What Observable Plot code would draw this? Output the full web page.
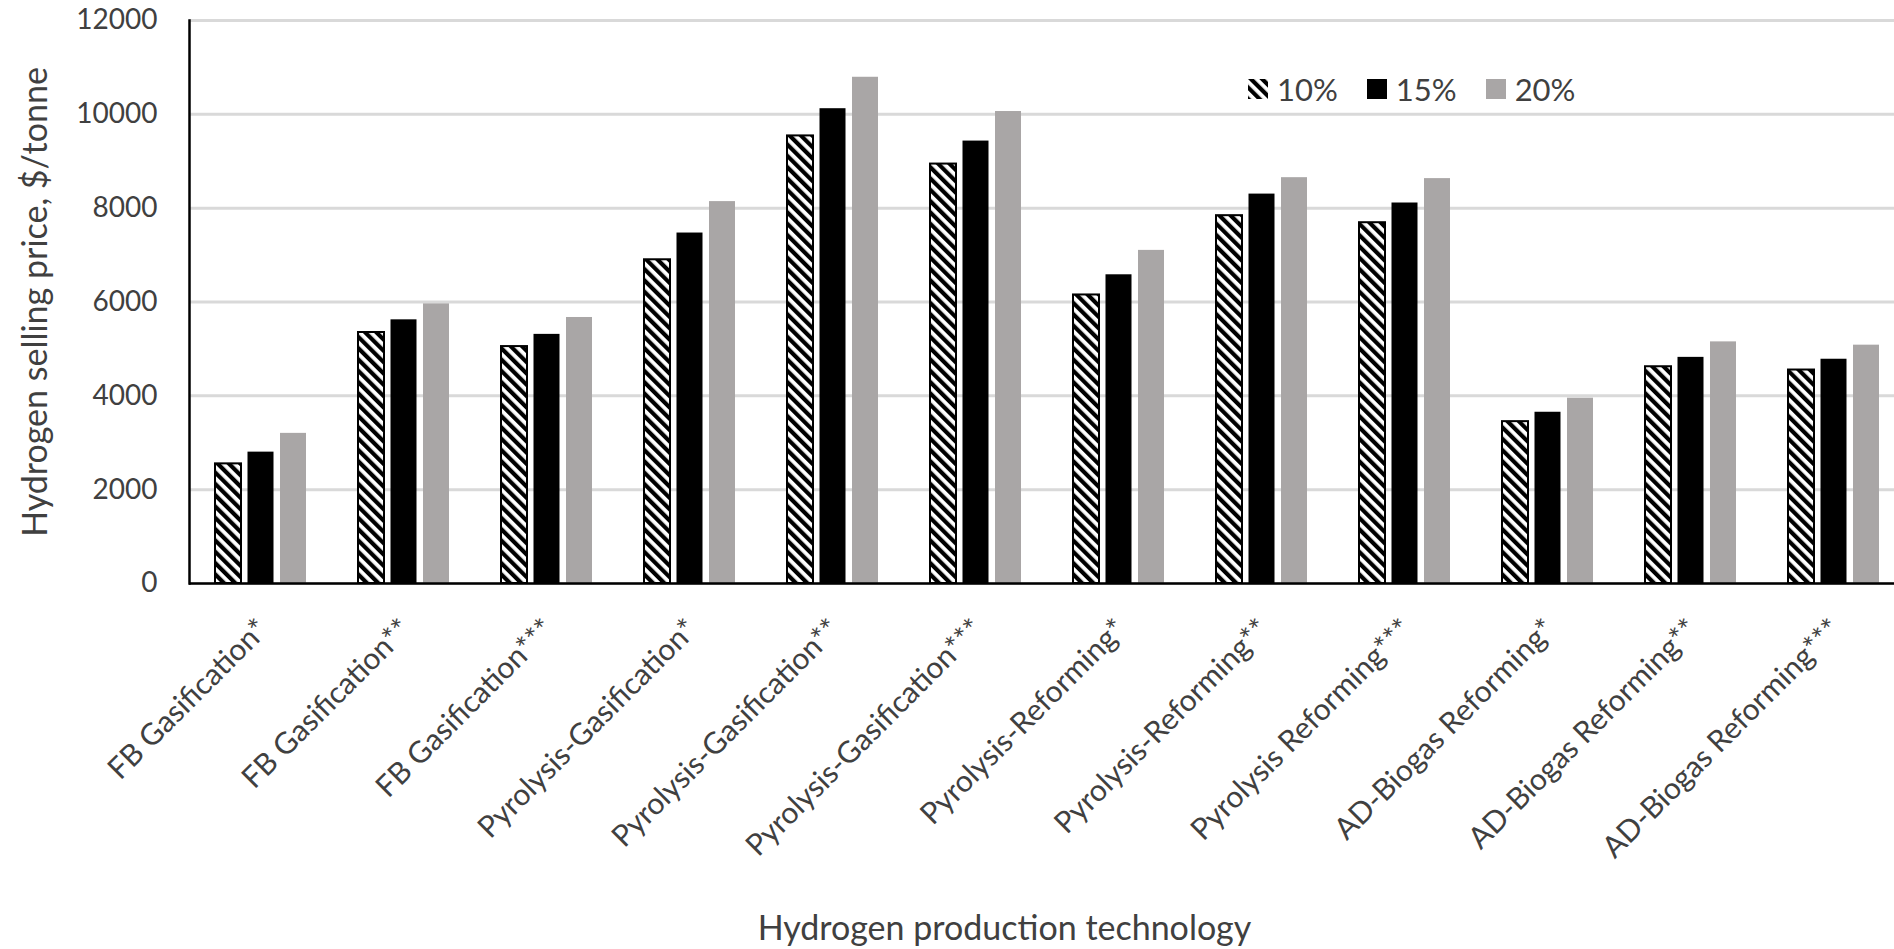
<!DOCTYPE html>
<html>
<head>
<meta charset="utf-8">
<script src="https://cdn.jsdelivr.net/npm/d3@7"></script>
<script src="https://cdn.jsdelivr.net/npm/@observablehq/plot@0.6"></script>
<style>
  html, body { margin: 0; padding: 0; background: #fff; overflow: hidden; }
  #wrap { position: relative; width: 1894px; height: 949px; }
  #legend { position: absolute; left: 1248px; top: 70px; }
  .lg-swatches { font-family: Lato, sans-serif !important; font-size: 31px !important; color: #404040 !important; margin: 0 !important; }
  .lg-swatch { margin-right: 29px !important; }
  .lg-swatch > svg { margin-right: 9px !important; overflow: visible; }
  .lg-swatch:first-child svg rect { stroke: #000; stroke-width: 2px; }
</style>
</head>
<body>
<div id="wrap"><div id="chart"></div><div id="legend"></div></div>
<script>
const technologies = [
  "FB Gasification*", "FB Gasification**", "FB Gasification***",
  "Pyrolysis-Gasification*", "Pyrolysis-Gasification**", "Pyrolysis-Gasification***",
  "Pyrolysis-Reforming*", "Pyrolysis-Reforming**", "Pyrolysis Reforming***",
  "AD-Biogas Reforming*", "AD-Biogas Reforming**", "AD-Biogas Reforming***"
];
const seriesNames = ["10%", "15%", "20%"];
const price10 = [2550, 5350, 5050, 6900, 9540, 8940, 6150, 7840, 7690, 3450, 4620, 4550];
const price15 = [2800, 5620, 5310, 7470, 10120, 9430, 6580, 8300, 8110, 3650, 4820, 4780];
const price20 = [3200, 5960, 5670, 8140, 10790, 10060, 7100, 8650, 8630, 3950, 5150, 5080];
const yTicks = [0, 2000, 4000, 6000, 8000, 10000, 12000];
const yTitle = "Hydrogen selling price, $/tonne";
const xTitle = "Hydrogen production technology";
const seriesFills = ["url(#hatch)", "#000000", "#a9a6a6"];

const seriesValues = [price10, price15, price20];
const rows = [];
technologies.forEach((t, i) => {
  seriesNames.forEach((s, j) => rows.push({tech: t, series: s, value: seriesValues[j][i]}));
});
const hatchedRows = rows.filter(d => d.series === seriesNames[0]);

const chart = Plot.plot({
  width: 1894,
  height: 949,
  marginLeft: 189,
  marginRight: -11,
  marginTop: 20,
  marginBottom: 366,
  style: {fontFamily: "Lato, sans-serif", color: "#404040", background: "#fff"},
  fx: {domain: technologies, paddingInner: 0, paddingOuter: 0, round: false},
  x: {domain: seriesNames, paddingInner: 0.2, paddingOuter: 0.8, round: false, axis: null},
  y: {domain: [0, 12000]},
  color: {type: "ordinal", domain: seriesNames, range: seriesFills},
  marks: [
    Plot.gridY(yTicks, {stroke: "#d9d9d9", strokeOpacity: 1, strokeWidth: 3}),
    Plot.barY(rows, {fx: "tech", x: "series", y: "value", fill: "series"}),
    Plot.barY(hatchedRows, {fx: "tech", x: "series", y: "value", fill: "none", stroke: "#000", strokeWidth: 2}),
    Plot.ruleY([0], {stroke: "#000", strokeWidth: 2.5}),
    Plot.frame({anchor: "left", facetAnchor: "left", stroke: "#000", strokeWidth: 2.5}),
    Plot.axisY({ticks: yTicks, tickSize: 0, tickPadding: 32, fontSize: 28, label: null, tickFormat: d => String(d)}),
    Plot.axisFx({anchor: "bottom", tickRotate: -45, tickSize: 0, tickPadding: 41, dx: 2, fontSize: 30, label: null}),
    Plot.text([yTitle], {text: d => d, frameAnchor: "left", textAnchor: "middle", rotate: -90, dx: -153, fontSize: 34, facet: "super"}),
    Plot.text([xTitle], {text: d => d, frameAnchor: "bottom", dx: -43, dy: 356, fontSize: 34, facet: "super"})
  ]
});

const defs = d3.select(chart).insert("defs", ":first-child");
const pat = defs.append("pattern")
  .attr("id", "hatch")
  .attr("patternUnits", "userSpaceOnUse")
  .attr("width", 8).attr("height", 8)
  .attr("patternTransform", "rotate(-45)");
pat.append("rect").attr("width", 8).attr("height", 8).attr("fill", "#fff");
pat.append("rect").attr("width", 4.2).attr("height", 8).attr("fill", "#000");

document.getElementById("chart").appendChild(chart);

const legend = Plot.legend({
  legend: "swatches",
  color: {type: "ordinal", domain: seriesNames, range: seriesFills},
  swatchSize: 20,
  className: "lg"
});
document.getElementById("legend").appendChild(legend);
</script>
</body>
</html>
